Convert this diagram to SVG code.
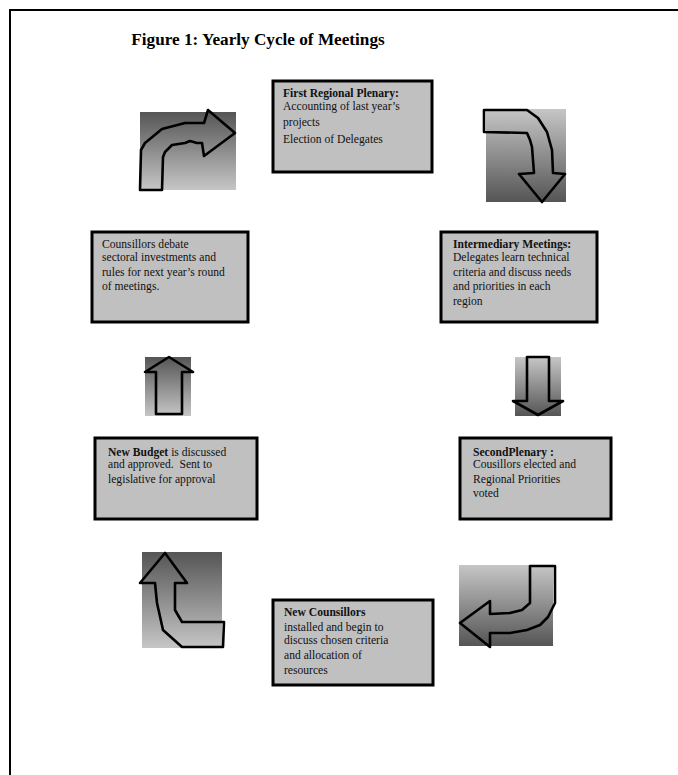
<svg xmlns="http://www.w3.org/2000/svg" width="678" height="775" viewBox="0 0 678 775">
  <defs>
    <linearGradient id="gDarkTop" x1="0" y1="0" x2="0" y2="1">
      <stop offset="0" stop-color="#555555"/>
      <stop offset="1" stop-color="#c6c6c6"/>
    </linearGradient>
    <linearGradient id="gLightTop" x1="0" y1="0" x2="0" y2="1">
      <stop offset="0" stop-color="#c6c6c6"/>
      <stop offset="1" stop-color="#555555"/>
    </linearGradient>
  </defs>
  <style>
    .frame { fill: none; stroke: #000; stroke-width: 2; }
    .box { fill: #c0c0c0; stroke: #000; stroke-width: 3; }
    .t { font-family: "Liberation Serif", "Times New Roman", serif; font-size: 11.6px; fill: #111; }
    .b { font-weight: bold; }
    .title { font-family: "Liberation Serif", "Times New Roman", serif; font-size: 17.2px; font-weight: bold; fill: #000; }
    .arrow { fill: none; stroke: #000; stroke-width: 2.6; stroke-linejoin: round; }
  </style>

  <rect class="frame" x="10" y="10" width="680" height="780"/>
  <text class="title" x="258" y="45" text-anchor="middle">Figure 1: Yearly Cycle of Meetings</text>

  <g id="node-first-plenary">
    <rect class="box" x="273" y="81" width="159" height="91"/>
    <text class="t" x="283" y="97"><tspan class="b">First Regional Plenary:</tspan></text>
    <text class="t" x="283" y="110">Accounting of last year’s</text>
    <text class="t" x="283" y="126">projects</text>
    <text class="t" x="283" y="143">Election of Delegates</text>
  </g>

  <g id="node-intermediary">
    <rect class="box" x="441" y="232" width="156" height="90"/>
    <text class="t" x="453" y="248"><tspan class="b">Intermediary Meetings:</tspan></text>
    <text class="t" x="453" y="261">Delegates learn technical</text>
    <text class="t" x="453" y="276">criteria and discuss needs</text>
    <text class="t" x="453" y="290">and priorities in each</text>
    <text class="t" x="453" y="305">region</text>
  </g>

  <g id="node-counsillors-debate">
    <rect class="box" x="92" y="232" width="156" height="90"/>
    <text class="t" x="102" y="248">Counsillors debate</text>
    <text class="t" x="102" y="261">sectoral investments and</text>
    <text class="t" x="102" y="276">rules for next year’s round</text>
    <text class="t" x="102" y="290">of meetings.</text>
  </g>

  <g id="node-new-budget">
    <rect class="box" x="95" y="438" width="162" height="81"/>
    <text class="t" x="108" y="456"><tspan class="b">New Budget</tspan> is discussed</text>
    <text class="t" x="108" y="468" xml:space="preserve">and approved.  Sent to</text>
    <text class="t" x="108" y="483">legislative for approval</text>
  </g>

  <g id="node-second-plenary">
    <rect class="box" x="460" y="438" width="151" height="81"/>
    <text class="t" x="473" y="456"><tspan class="b">SecondPlenary :</tspan></text>
    <text class="t" x="473" y="468">Cousillors elected and</text>
    <text class="t" x="473" y="483">Regional Priorities</text>
    <text class="t" x="473" y="497">voted</text>
  </g>

  <g id="node-new-counsillors">
    <rect class="box" x="273" y="600" width="160" height="85"/>
    <text class="t" x="284" y="616"><tspan class="b">New Counsillors</tspan></text>
    <text class="t" x="284" y="631">installed and begin to</text>
    <text class="t" x="284" y="644">discuss chosen criteria</text>
    <text class="t" x="284" y="659">and allocation of</text>
    <text class="t" x="284" y="674">resources</text>
  </g>

  <g id="connectors">
    <!-- top-left: up and right -->
    <rect x="140" y="112" width="96" height="78" fill="url(#gDarkTop)"/>
    <path class="arrow" d="M140,190 L141,150 L145,143 L162,129 L185,123 L204,123 L208,110 L235,133 L204,156 L202,143 L197,143 L190,141 L185,143 L172,145 L165,152 L163,157 L162,190 Z"/>

    <!-- top-right: right and down -->
    <rect x="486" y="109" width="80" height="93" fill="url(#gLightTop)"/>
    <path class="arrow" d="M484,110 L484,132 L527,133 L530,140 L532,147 L534,173 L519,174 L542,202 L565,174 L553,173 L552,150 L547,132 L538,118 L527,110 Z"/>

    <!-- right straight down -->
    <rect x="515" y="357" width="46" height="59" fill="url(#gLightTop)"/>
    <path class="arrow" d="M527,357 L549,357 L549,401 L563,401 L538,415 L513,401 L527,401 Z"/>

    <!-- left straight up -->
    <rect x="145" y="357" width="46" height="59" fill="url(#gDarkTop)"/>
    <path class="arrow" d="M169,357 L193,372 L182,372 L182,414 L156,414 L156,372 L145,372 Z"/>

    <!-- bottom-right: down and left -->
    <rect x="459" y="565" width="94" height="81" fill="url(#gLightTop)"/>
    <path class="arrow" d="M460,623 L490,601 L490,614 L510,613 L522,610 L530,603 L530,566 L555,566 L555,603 L548,617 L540,625 L527,630 L510,633 L490,633 L490,647 Z"/>

    <!-- bottom-left: left and up -->
    <rect x="142" y="552" width="80" height="96" fill="url(#gDarkTop)"/>
    <path class="arrow" d="M165,553 L187,583 L175,583 L175,610 L182,622 L224,622 L223,647 L182,647 L163,630 L157,603 L155,583 L140,583 Z"/>
  </g>
</svg>
